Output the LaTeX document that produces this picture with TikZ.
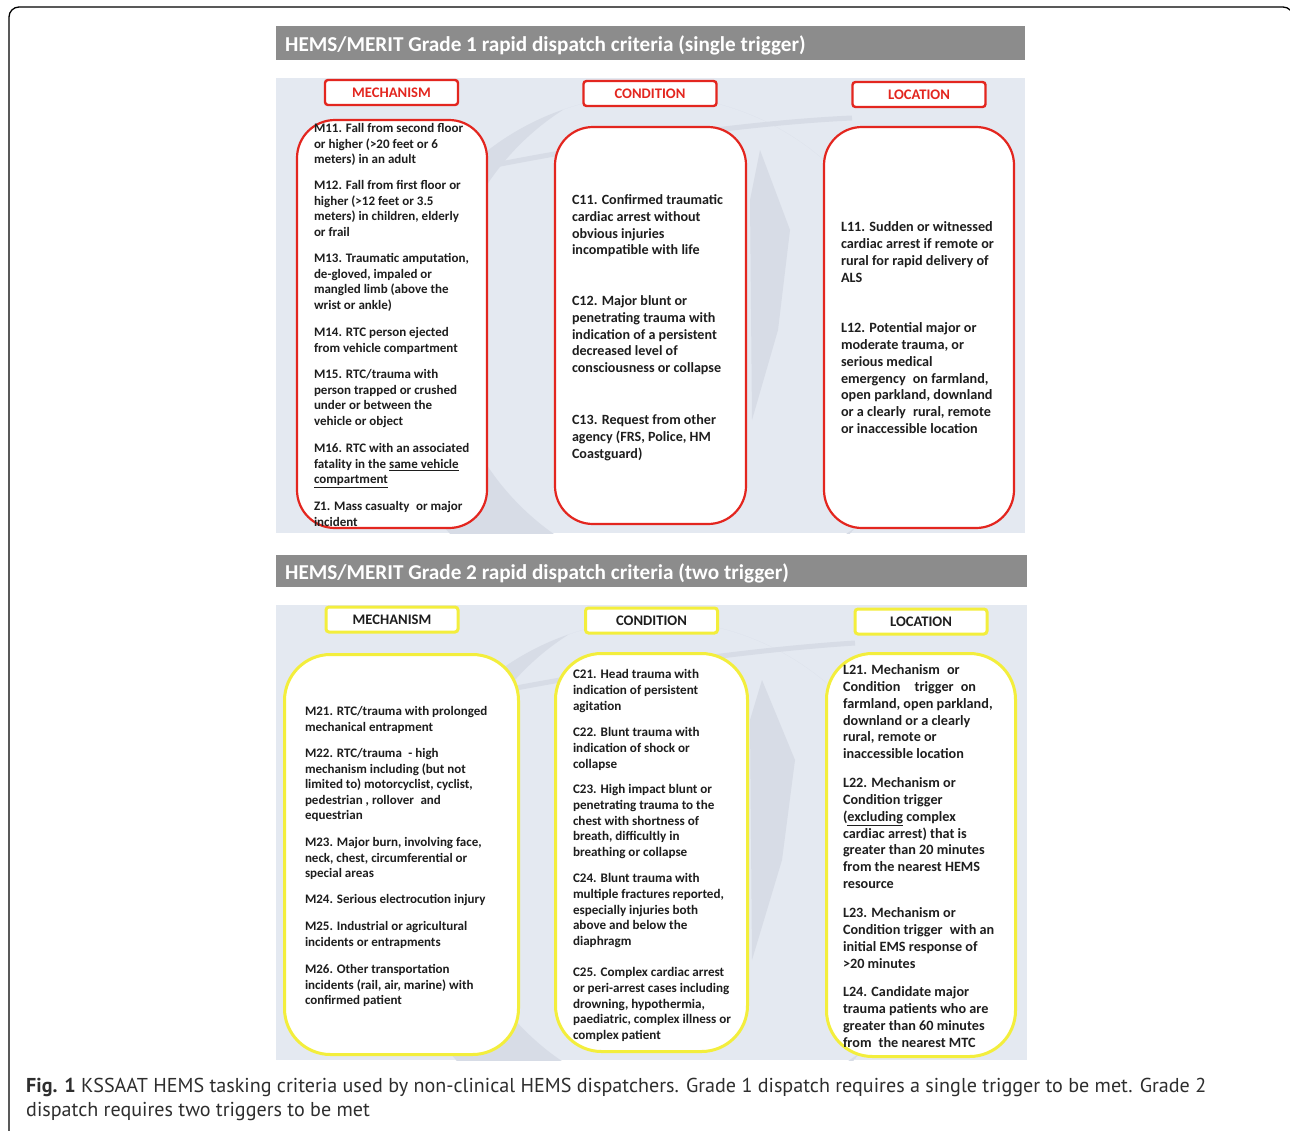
\documentclass[tikz,border=0pt]{standalone}
\usepackage{fontspec}
\setmainfont{Carlito}
\newfontfamily\capfont{PT Sans}
\definecolor{hemsred}{HTML}{E3261F}
\definecolor{hemsyel}{HTML}{F3EE3C}
\definecolor{hdrgrey}{HTML}{8C8C8C}
\definecolor{panelbg}{HTML}{E4E9F1}
\definecolor{wmark}{HTML}{D7DCE6}
\definecolor{txt}{HTML}{1E1E1E}
\definecolor{captxt}{HTML}{2E2E2E}
\newcommand\fM{\fontsize{13}{15.5}\selectfont\bfseries}
\newcommand\fC{\fontsize{14.1}{16.7}\selectfont\bfseries}
\newcommand\fL{\fontsize{14.2}{16.8}\selectfont\bfseries}
\newcommand\fMb{\fontsize{13}{15.5}\selectfont\bfseries}
\newcommand\fCb{\fontsize{13.1}{15.6}\selectfont\bfseries}
\newcommand\fLb{\fontsize{14.2}{16.8}\selectfont\bfseries}
\newcommand\dsp{\hspace{0.5em}}
\tikzset{
  crit/.style={anchor=north west, inner sep=0pt, outer sep=0pt, align=left, text=txt},
  hdr/.style={anchor=base west, inner sep=0pt, text=white, font=\fontsize{21.2}{24}\selectfont\bfseries},
  labred/.style={draw=hemsred, line width=2.4pt, fill=white, rounded corners=3pt,
     minimum width=133pt, minimum height=25pt, inner sep=0pt, text=hemsred,
     font=\fontsize{14.6}{16}\selectfont\bfseries},
  labyel/.style={draw=hemsyel, line width=3pt, fill=white, rounded corners=3pt,
     minimum width=132pt, minimum height=25pt, inner sep=0pt, text=txt,
     font=\fontsize{14.6}{16}\selectfont\bfseries},
  bigred/.style={draw=hemsred, line width=2.2pt, fill=white, rounded corners=38pt, inner sep=0pt},
  bigyel/.style={draw=hemsyel, line width=3pt, fill=white, rounded corners=46pt, inner sep=0pt},
  captext/.style={anchor=base west, inner sep=0pt, text=captxt, font=\capfont\fontsize{20.1}{24}\selectfont}
}
\begin{document}
\begin{tikzpicture}[x=1pt,y=-1pt]
\useasboundingbox (0,0) rectangle (1290,1130);
\fill[white] (0,0) rectangle (1290,1130);
% outer frame
\draw[line width=1.3pt, rounded corners=10pt] (9,7) rectangle (1293,1170);

% ===== Grade 1 =====
\fill[hdrgrey] (276,26) rectangle (1025,60);
\node[hdr] (h1) at (285,51.5) {HEMS/MERIT Grade 1 rapid dispatch criteria (single trigger)};
\fill[panelbg] (276,78) rectangle (1025,533);
\begin{scope}
  \clip (276,78) rectangle (1025,533);
  \begin{scope}
    \clip (650,360) circle (265);
    \fill[wmark, even odd rule] (650,360) circle (265) (700,325) circle (255);
  \end{scope}
  \draw[wmark, line width=5pt] (480,168) .. controls (620,140) and (760,122) .. (852,118);
  \fill[wmark] (760,150) -- (790,230) -- (778,330) -- (752,420) -- (750,200) -- cycle;
\end{scope}

\node[labred] (lm1) at (391.5,92.5) {MECHANISM};
\node[labred] (lc1) at (650,93.5) {CONDITION};
\node[labred] (ll1) at (919,94.5) {LOCATION};

\node[bigred, minimum width=190pt, minimum height=408pt] (bm1) at (392,324) {};
\node[bigred, minimum width=191pt, minimum height=397pt] (bc1) at (650.5,325.5) {};
\node[bigred, minimum width=190pt, minimum height=401pt] (bl1) at (919,327.5) {};

\node[crit, font=\fM] (m11) at (314,122) {\strut M11. Fall from second floor\\or higher (>20 feet or 6\\meters) in an adult};
\node[crit, font=\fM] (m12) at (314,179) {\strut M12. Fall from first floor or\\higher (>12 feet or 3.5\\meters) in children, elderly\\or frail};
\node[crit, font=\fM] (m13) at (314,252) {\strut M13. Traumatic amputation,\\de-gloved, impaled or\\mangled limb (above the\\wrist or ankle)};
\node[crit, font=\fM] (m14) at (314,326) {\strut M14. RTC person ejected\\from vehicle compartment};
\node[crit, font=\fM] (m15) at (314,368) {\strut M15. RTC/trauma with\\person trapped or crushed\\under or between the\\vehicle or object};
\node[crit, font=\fM] (m16) at (314,442) {\strut M16. RTC with an associated\\fatality in the \underline{same vehicle}\\\underline{compartment}};
\node[crit, font=\fM] (z1) at (314,500) {\strut Z1. Mass casualty\dsp or major\\incident};

\node[crit, font=\fC] (c11) at (572,193) {\strut C11. Confirmed traumatic\\cardiac arrest without\\obvious injuries\\incompatible with life};
\node[crit, font=\fC] (c12) at (572,294) {\strut C12. Major blunt or\\penetrating trauma with\\indication of a persistent\\decreased level of\\consciousness or collapse};
\node[crit, font=\fC] (c13) at (572,413) {\strut C13. Request from other\\agency (FRS, Police, HM\\Coastguard)};

\node[crit, font=\fL] (l11) at (841,220) {\strut L11. Sudden or witnessed\\cardiac arrest if remote or\\rural for rapid delivery of\\ALS};
\node[crit, font=\fL] (l12) at (841,321) {\strut L12. Potential major or\\moderate trauma, or\\serious medical\\emergency\dsp on farmland,\\open parkland, downland\\or a clearly\dsp rural, remote\\or inaccessible location};

% ===== Grade 2 =====
\fill[hdrgrey] (276,555) rectangle (1027,587);
\node[hdr] (h2) at (285,579) {HEMS/MERIT Grade 2 rapid dispatch criteria (two trigger)};
\fill[panelbg] (276,605) rectangle (1027,1060);
\begin{scope}
  \clip (276,605) rectangle (1027,1060);
  \begin{scope}
    \clip (655,885) circle (265);
    \fill[wmark, even odd rule] (655,885) circle (265) (705,850) circle (255);
  \end{scope}
  \draw[wmark, line width=5pt] (480,695) .. controls (620,667) and (760,649) .. (855,643);
  \fill[wmark] (762,680) -- (795,760) -- (782,860) -- (752,960) -- (750,720) -- cycle;
\end{scope}

\node[labyel] (lm2) at (392,619.5) {MECHANISM};
\node[labyel] (lc2) at (651.5,620.5) {CONDITION};
\node[labyel] (ll2) at (921,621.5) {LOCATION};

\node[bigyel, minimum width=234pt, minimum height=400pt] (bm2) at (401.5,854.5) {};
\node[bigyel, minimum width=192pt, minimum height=398pt] (bc2) at (651.5,852.5) {};
\node[bigyel, minimum width=189pt, minimum height=403pt] (bl2) at (921,855) {};

\node[crit, font=\fMb] (m21) at (305,705) {\strut M21. RTC/trauma with prolonged\\mechanical entrapment};
\node[crit, font=\fMb] (m22) at (305,747) {\strut M22. RTC/trauma\dsp - high\\mechanism including (but not\\limited to) motorcyclist, cyclist,\\pedestrian , rollover\dsp and\\equestrian};
\node[crit, font=\fMb] (m23) at (305,836) {\strut M23. Major burn, involving face,\\neck, chest, circumferential or\\special areas};
\node[crit, font=\fMb] (m24) at (305,893) {\strut M24. Serious electrocution injury};
\node[crit, font=\fMb] (m25) at (305,920) {\strut M25. Industrial or agricultural\\incidents or entrapments};
\node[crit, font=\fMb] (m26) at (305,963) {\strut M26. Other transportation\\incidents (rail, air, marine) with\\confirmed patient};

\node[crit, font=\fCb] (c21) at (573,668) {\strut C21. Head trauma with\\indication of persistent\\agitation};
\node[crit, font=\fCb] (c22) at (573,726) {\strut C22. Blunt trauma with\\indication of shock or\\collapse};
\node[crit, font=\fCb] (c23) at (573,783) {\strut C23. High impact blunt or\\penetrating trauma to the\\chest with shortness of\\breath, difficultly in\\breathing or collapse};
\node[crit, font=\fCb] (c24) at (573,872) {\strut C24. Blunt trauma with\\multiple fractures reported,\\especially injuries both\\above and below the\\diaphragm};
\node[crit, font=\fCb] (c25) at (573,966) {\strut C25. Complex cardiac arrest\\or peri-arrest cases including\\drowning, hypothermia,\\paediatric, complex illness or\\complex patient};

\node[crit, font=\fLb] (l21) at (843,663) {\strut L21. Mechanism\dsp or\\Condition\dsp\dsp trigger\dsp on\\farmland, open parkland,\\downland or a clearly\\rural, remote or\\inaccessible location};
\node[crit, font=\fLb] (l22) at (843,776) {\strut L22. Mechanism or\\Condition trigger\\(\underline{excluding} complex\\cardiac arrest) that is\\greater than 20 minutes\\from the nearest HEMS\\resource};
\node[crit, font=\fLb] (l23) at (843,906) {\strut L23. Mechanism or\\Condition trigger\dsp with an\\initial EMS response of\\>20 minutes};
\node[crit, font=\fLb] (l24) at (843,985) {\strut L24. Candidate major\\trauma patients who are\\greater than 60 minutes\\from\dsp the nearest MTC};

% ===== Caption =====
\node[captext] (cap1) at (26,1092.5) {\textbf{Fig. 1} KSSAAT HEMS tasking criteria used by non-clinical HEMS dispatchers. Grade 1 dispatch requires a single trigger to be met. Grade 2};
\node[captext] (cap2) at (26,1116) {dispatch requires two triggers to be met};
\end{tikzpicture}
\end{document}
